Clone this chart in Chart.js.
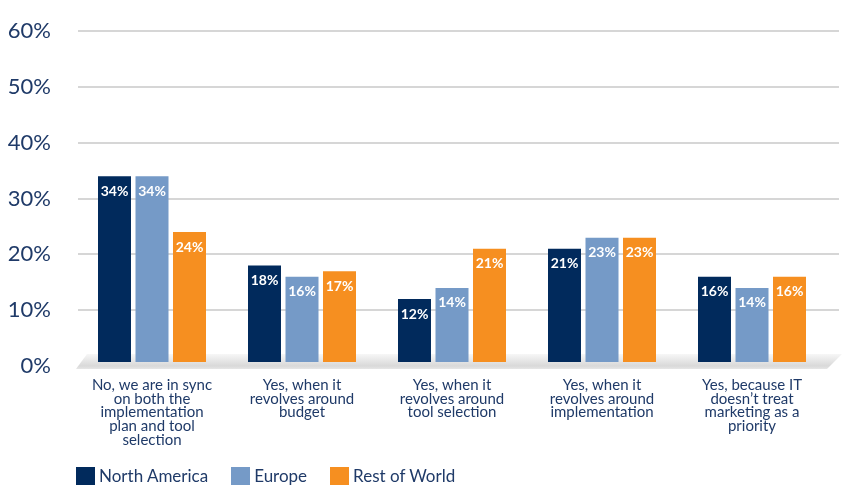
<!DOCTYPE html>
<html>
<head>
<meta charset="utf-8">
<script src="https://cdn.jsdelivr.net/npm/chart.js@4.4.0/dist/chart.umd.min.js"></script>
<style>
  html, body { margin: 0; padding: 0; background: #fff; }
  #wrap { position: relative; width: 843px; height: 485px; }
  #legend { position: absolute; left: 76px; top: 467px; display: flex; font-family: Lato, "Open Sans", sans-serif; font-size: 17px; color: #1f3a68; }
  #legend .item { display: flex; align-items: center; margin-right: 23px; line-height: 18px; }
  #legend .box { width: 19px; height: 18px; margin-right: 4px; }
</style>
</head>
<body>
<div id="wrap">
  <canvas id="chart" width="843" height="485"></canvas>
  <div id="legend"></div>
</div>
<script>
// --- Data ---
const categories = [
  ['No, we are in sync', 'on both the', 'implementation', 'plan and tool', 'selection'],
  ['Yes, when it', 'revolves around', 'budget'],
  ['Yes, when it', 'revolves around', 'tool selection'],
  ['Yes, when it', 'revolves around', 'implementation'],
  ['Yes, because IT', 'doesn\u2019t treat', 'marketing as a', 'priority']
];
const seriesNames = ['North America', 'Europe', 'Rest of World'];
const northAmerica = [34, 18, 12, 21, 16];
const europe = [34, 16, 14, 23, 14];
const restOfWorld = [24, 17, 21, 23, 16];
const yTicks = [0, 10, 20, 30, 40, 50, 60];

const colors = ['#012a5c', '#759ac7', '#f68f20'];
const navy = '#1f3a68';

// --- Plugins ---
// gridlines + grey floor behind the bars
const backdrop = {
  id: 'backdrop',
  beforeDatasetsDraw(chart) {
    const { ctx } = chart;
    const y = chart.scales.y;
    ctx.save();
    ctx.strokeStyle = '#d6d6d6';
    ctx.lineWidth = 2;
    yTicks.forEach(t => {
      if (t === 0) return;
      const py = Math.round(y.getPixelForValue(t));
      ctx.beginPath();
      ctx.moveTo(78, py);
      ctx.lineTo(839, py);
      ctx.stroke();
    });
    // floor
    const y0 = y.getPixelForValue(0);
    const top = y0 - 12, bottom = y0 + 3;
    const g = ctx.createLinearGradient(0, top, 0, bottom);
    g.addColorStop(0, '#f7f7f7');
    g.addColorStop(0.8, '#d9d9d9');
    g.addColorStop(1, '#e6e6e6');
    ctx.fillStyle = g;
    ctx.beginPath();
    ctx.moveTo(87, top);
    ctx.lineTo(842, top);
    ctx.lineTo(827, bottom);
    ctx.lineTo(76, bottom);
    ctx.closePath();
    ctx.fill();
    ctx.restore();
  }
};

// value labels inside the top of each bar
const barLabels = {
  id: 'barLabels',
  afterDatasetsDraw(chart) {
    const { ctx } = chart;
    ctx.save();
    ctx.fillStyle = '#fff';
    ctx.font = 'bold 14px Lato, "Open Sans", sans-serif';
    ctx.textAlign = 'center';
    ctx.textBaseline = 'middle';
    chart.data.datasets.forEach((ds, i) => {
      chart.getDatasetMeta(i).data.forEach((bar, j) => {
        ctx.fillText(ds.data[j] + '%', bar.x, bar.y + 15);
      });
    });
    ctx.restore();
  }
};

const allSeries = [northAmerica, europe, restOfWorld];

const chart = new Chart(document.getElementById('chart'), {
  type: 'bar',
  data: {
    labels: categories,
    datasets: allSeries.map((d, i) => ({
      label: seriesNames[i],
      data: d,
      backgroundColor: colors[i],
      base: 0.7,
      categoryPercentage: 0.75,
      barPercentage: 0.88
    }))
  },
  options: {
    responsive: false,
    animation: false,
    layout: { padding: { top: 23, right: 16, left: 0, bottom: 0 } },
    plugins: {
      legend: { display: false },
      tooltip: { enabled: false }
    },
    scales: {
      x: {
        grid: { display: false },
        border: { display: false },
        ticks: {
          color: navy,
          padding: 4,
          maxRotation: 0,
          autoSkip: false,
          font: { family: 'Lato, "Open Sans", sans-serif', size: 15, lineHeight: 0.92 }
        },
        afterFit(scale) { scale.height = 119; }
      },
      y: {
        min: 0,
        max: 60,
        grid: { display: false },
        border: { display: false },
        afterBuildTicks(scale) { scale.ticks = yTicks.map(v => ({ value: v })); },
        ticks: {
          color: navy,
          padding: 18,
          font: { family: 'Lato, "Open Sans", sans-serif', size: 22 },
          callback: v => v + '%'
        },
        afterFit(scale) { scale.width = 77; }
      }
    }
  },
  plugins: [backdrop, barLabels]
});

// --- Legend ---
const legend = document.getElementById('legend');
seriesNames.forEach((name, i) => {
  const item = document.createElement('div');
  item.className = 'item';
  item.innerHTML = '<span class="box" style="background:' + colors[i] + '"></span>' + name;
  legend.appendChild(item);
});
</script>
</body>
</html>
